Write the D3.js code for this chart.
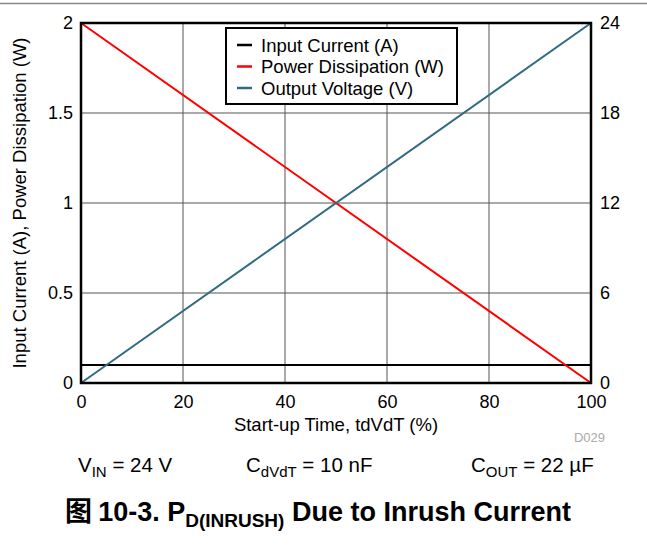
<!DOCTYPE html>
<html><head><meta charset="utf-8">
<script src="https://cdn.jsdelivr.net/npm/d3@7"></script>
<style>body{margin:0;background:#fff;} svg{display:block;font-family:"Liberation Sans",Arial,sans-serif;}</style>
</head><body>
<svg id="c" width="647" height="548"></svg>
<script>
const timePct = [0, 100];
const inputCurrent = [0.1, 0.1];
const powerDiss = [2, 0];
const outputVoltage = [0, 24];
const xTicks = [0, 20, 40, 60, 80, 100];
const yLeftTicks = [0, 0.5, 1, 1.5, 2];
const yRightTicks = [0, 6, 12, 18, 24];
const legendLabels = ["Input Current (A)", "Power Dissipation (W)", "Output Voltage (V)"];
const colors = ["#000000", "#ff0000", "#336b80"];

const FONT = '"Liberation Sans",Arial,sans-serif';
const svg = d3.select("#c");
const L = 81, R = 591, T = 23, B = 383;
const x = d3.scaleLinear().domain([0, 100]).range([L, R]);
const yL = d3.scaleLinear().domain([0, 2]).range([B, T]);
const yR = d3.scaleLinear().domain([0, 24]).range([B, T]);

svg.append("line").attr("x1", 0).attr("x2", 647).attr("y1", 3.5).attr("y2", 3.5).attr("stroke", "#888").attr("stroke-width", 1.5);

// grid
svg.append("g").selectAll("line").data(xTicks).join("line")
  .attr("x1", d => x(d)).attr("x2", d => x(d)).attr("y1", T).attr("y2", B)
  .attr("stroke", "#555").attr("stroke-width", 1);
svg.append("g").selectAll("line").data(yLeftTicks).join("line")
  .attr("x1", L).attr("x2", R).attr("y1", d => yL(d)).attr("y2", d => yL(d))
  .attr("stroke", "#555").attr("stroke-width", 1);

// axes tick labels
const xAxis = d3.axisBottom(x).tickValues(xTicks).tickSize(0).tickPadding(12);
const gx = svg.append("g").attr("transform", `translate(0,${B})`).call(xAxis);
const yAxisL = d3.axisLeft(yL).tickValues(yLeftTicks).tickSize(0).tickPadding(8).tickFormat(d3.format("~g"));
const gyl = svg.append("g").attr("transform", `translate(${L},0)`).call(yAxisL);
const yAxisR = d3.axisRight(yR).tickValues(yRightTicks).tickSize(0).tickPadding(9);
const gyr = svg.append("g").attr("transform", `translate(${R},0)`).call(yAxisR);
[gx, gyl, gyr].forEach(g => {
  g.select(".domain").remove();
  g.selectAll("text").attr("font-size", 18).attr("fill", "#000").attr("font-family", FONT);
});

// lines
const line = (ys, scale) => d3.line().x((d, i) => x(timePct[i])).y(d => scale(d))(ys);
svg.append("path").attr("d", line(inputCurrent, yL)).attr("fill", "none").attr("stroke", colors[0]).attr("stroke-width", 2);
svg.append("path").attr("d", line(powerDiss, yL)).attr("fill", "none").attr("stroke", colors[1]).attr("stroke-width", 2);
svg.append("path").attr("d", line(outputVoltage, yR)).attr("fill", "none").attr("stroke", colors[2]).attr("stroke-width", 2);

// frame
svg.append("rect").attr("x", L).attr("y", T).attr("width", R - L).attr("height", B - T)
  .attr("fill", "none").attr("stroke", "#000").attr("stroke-width", 2.5);

// legend
const lg = svg.append("g");
lg.append("rect").attr("x", 226).attr("y", 28).attr("width", 231).attr("height", 76)
  .attr("fill", "#fff").attr("stroke", "#000").attr("stroke-width", 2);
legendLabels.forEach((t, i) => {
  const yy = 45 + i * 21.5;
  lg.append("line").attr("x1", 237).attr("x2", 252).attr("y1", yy).attr("y2", yy).attr("stroke", colors[i]).attr("stroke-width", 2.5);
  lg.append("text").attr("x", 261).attr("y", yy + 6.5).attr("font-size", 18.5).text(t);
});

// axis titles
svg.append("text").attr("transform", `translate(26,${(T + B) / 2}) rotate(-90)`).attr("text-anchor", "middle")
  .attr("font-size", 18.5).text("Input Current (A), Power Dissipation (W)");
svg.append("text").attr("x", (L + R) / 2).attr("y", 431).attr("text-anchor", "middle").attr("font-size", 18.5).text("Start-up Time, tdVdT (%)");
svg.append("text").attr("x", 605).attr("y", 442).attr("text-anchor", "end").attr("font-size", 13).attr("fill", "#aaa").text("D029");

// conditions
function sub(x0, main, s, rest) {
  const t = svg.append("text").attr("x", x0).attr("y", 472).attr("font-size", 20.5);
  t.append("tspan").text(main);
  t.append("tspan").attr("font-size", 15).attr("dy", 5).text(s);
  t.append("tspan").attr("dy", -5).text(rest);
}
sub(78, "V", "IN", " = 24 V");
sub(246, "C", "dVdT", " = 10 nF");
sub(471, "C", "OUT", " = 22 µF");

// caption
const cap = svg.append("text").attr("x", 65).attr("y", 521).attr("font-size", 27).attr("font-weight", "bold");
cap.append("tspan").attr("font-family", '"Noto Sans CJK SC",sans-serif').text("图 ");
cap.append("tspan").text("10-3. P");
cap.append("tspan").attr("font-size", 19).attr("dy", 6).text("D(INRUSH)");
cap.append("tspan").attr("dy", -6).text(" Due to Inrush Current");
</script>
</body></html>
